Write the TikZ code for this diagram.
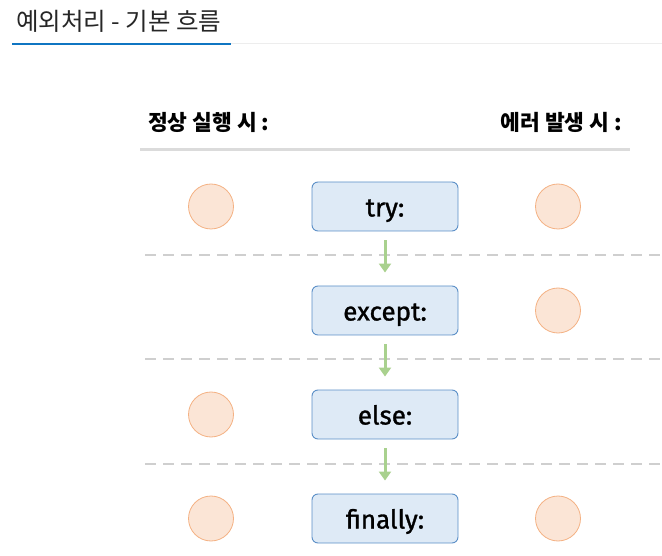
\documentclass[tikz,border=0pt]{standalone}
\usepackage{fontspec}
\setmainfont{Fira Sans}
\newfontfamily\boxfont{Fira Sans}[FakeBold=1.2]
\newfontfamily\krfont{Noto Sans CJK KR}
\usetikzlibrary{arrows.meta}
\definecolor{boxfill}{HTML}{DEEAF6}
\definecolor{boxdraw}{HTML}{5B8FC7}
\definecolor{circfill}{HTML}{FBE5D6}
\definecolor{circdraw}{HTML}{F4B183}
\definecolor{arrowgreen}{HTML}{A9D18E}
\definecolor{dashgray}{HTML}{CFCFCF}
\definecolor{titleblue}{HTML}{0F75C2}
\begin{document}
\begin{tikzpicture}[x=1pt,y=-1pt,
  stagebox/.style={draw=boxdraw,fill=boxfill,rounded corners=6pt,line width=0.9pt,
    minimum width=146pt,minimum height=49pt,inner sep=0pt,text height=20pt,text depth=0pt,
    font=\boxfont\fontsize{26}{28}\selectfont},
  dot/.style={circle,draw=circdraw,fill=circfill,line width=0.8pt,minimum size=45pt,inner sep=0pt},
  sep/.style={dashgray,line width=1.8pt,dash pattern=on 11pt off 7pt},
  flow/.style={arrowgreen,line width=3pt,-{Triangle[length=9pt,width=12pt]},shorten <=9pt,shorten >=13pt},
  hdr/.style={font=\krfont\bfseries\fontsize{21.5}{24}\selectfont,inner sep=0pt}]
\useasboundingbox (0,0) rectangle (662,556);
% title
\node[anchor=west,inner sep=0pt,font=\krfont\fontsize{24.5}{27}\selectfont,text=black!85] (title) at (16,21) {예외처리 - 기본 흐름};
\draw[black!7,line width=1pt] (231,44) -- (662,44);
\draw[titleblue,line width=2.2pt] (12,44) -- (231,44);
% headers
\node[hdr,anchor=west] (hl) at (148,122) {정상 실행 시 :};
\node[hdr,anchor=east] (hr) at (622,122) {에러 발생 시 :};
\draw[black!14,line width=3pt] (140,150) -- (630,150);
% boxes
\node[stagebox] (try) at (385,206.5) {try:};
\node[stagebox] (except) at (385,310.5) {except:};
\node[stagebox] (else) at (385,414.5) {else:};
\node[stagebox] (finally) at (385,518.5) {finally:};
% circles
\node[dot] (l1) at (211,206.5) {};
\node[dot] (r1) at (558,206.5) {};
\node[dot] (r2) at (558,310.5) {};
\node[dot] (l3) at (211,414.5) {};
\node[dot] (l4) at (211,518.5) {};
\node[dot] (r4) at (558,518.5) {};
% dashed separators
\draw[sep] (145,255) -- (662,255);
\draw[sep] (145,359) -- (662,359);
\draw[sep] (145,464) -- (662,464);
% arrows
\draw[flow] (try) -- (except);
\draw[flow] (except) -- (else);
\draw[flow] (else) -- (finally);
\end{tikzpicture}
\end{document}
